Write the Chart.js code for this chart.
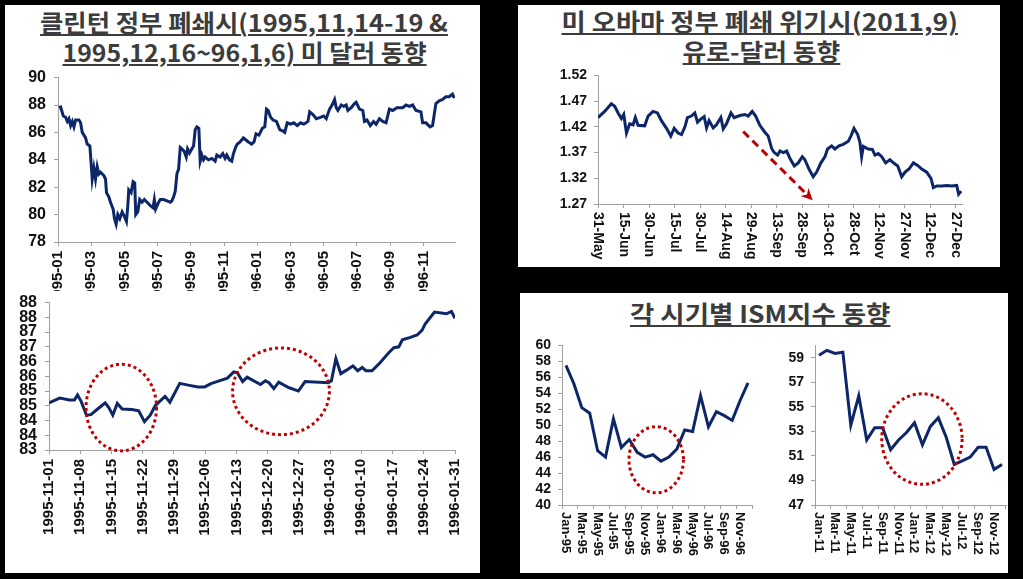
<!DOCTYPE html>
<html>
<head>
<meta charset="utf-8">
<script src="https://cdn.jsdelivr.net/npm/chart.js@4.4.0/dist/chart.umd.min.js"></script>
<style>
  html, body { margin: 0; padding: 0; background: #000; }
  #page { position: relative; width: 1023px; height: 579px; overflow: hidden; background: #000; }
  .panel { position: absolute; background: #fff; }
  .box { position: absolute; }
  .box canvas { display: block; }
  .ttl { position: absolute; width: 600px; text-align: center; white-space: nowrap;
         font: bold 24px 'Noto Sans CJK KR', sans-serif; color: #3c3c3c; line-height: 30px; }
  .ttl span { display: inline-block; text-decoration: underline; text-decoration-thickness: 2px;
              text-underline-offset: 2px; transform-origin: 50% 50%; }
</style>
</head>
<body>
<div id="page">
  <div class="panel" style="left:5px;top:5px;width:475px;height:568px"></div>
  <div class="panel" style="left:518px;top:5px;width:482px;height:262px"></div>
  <div class="panel" style="left:520px;top:293px;width:488px;height:280px"></div>

  <div class="ttl" style="left:-56px;top:7px"><span data-w="408">클린턴 정부 폐쇄시(1995,11,14-19 &amp;</span></div>
  <div class="ttl" style="left:-55px;top:37px"><span data-w="364">1995,12,16~96,1,6) 미 달러 동향</span></div>
  <div class="ttl" style="left:460px;top:6px"><span data-w="396">미 오바마 정부 폐쇄 위기시(2011,9)</span></div>
  <div class="ttl" style="left:461px;top:36px"><span data-w="158">유로-달러 동향</span></div>
  <div class="ttl" style="left:460px;top:298px"><span data-w="260">각 시기별 ISM지수 동향</span></div>

  <div class="box" style="left:10px;top:60px"><canvas id="c1" width="460" height="231"></canvas></div>
  <div class="box" style="left:8px;top:285px"><canvas id="c2" width="470" height="285"></canvas></div>
  <div class="box" style="left:525px;top:60px"><canvas id="c3" width="470" height="205"></canvas></div>
  <div class="box" style="left:525px;top:330px"><canvas id="c4" width="245" height="240"></canvas></div>
  <div class="box" style="left:775px;top:330px"><canvas id="c5" width="233" height="240"></canvas></div>
</div>

<script>
// 1995-96 dollar index (x = months since 1995-01)
const usdMonths = [0.06,0.16,0.32,0.46,0.56,0.66,0.76,0.86,0.96,1.06,1.26,1.36,1.46,1.66,1.76,1.92,2.0,2.06,2.16,2.26,
  2.36,2.46,2.56,2.76,2.86,2.92,3.06,3.16,3.32,3.4,3.5,3.6,3.72,3.86,4.0,4.12,4.2,4.26,4.4,4.52,
  4.62,4.68,4.8,4.92,5.06,5.2,5.36,5.56,5.72,5.8,5.88,6.06,6.16,6.36,6.56,6.76,6.86,6.96,7.06,7.16,
  7.26,7.36,7.46,7.6,7.72,7.8,7.92,8.06,8.16,8.26,8.36,8.48,8.56,8.66,8.76,8.86,9.06,9.26,9.46,9.56,
  9.76,9.92,10.06,10.16,10.32,10.46,10.56,10.72,10.8,10.96,11.16,11.26,11.46,11.66,11.8,
  11.92,12.1,12.3,12.45,12.55,12.65,12.8,12.95,13.15,13.35,13.55,13.65,13.8,14.0,14.2,14.4,14.6,14.8,
  15.05,15.15,15.35,15.55,15.8,16.0,16.15,16.35,16.5,16.65,16.75,16.85,17.05,17.2,17.35,17.45,17.65,
  17.85,17.95,18.15,18.35,18.45,18.6,18.8,19.0,19.15,19.35,19.55,19.75,19.95,20.15,20.4,20.75,20.95,
  21.15,21.35,21.55,21.85,21.95,22.15,22.4,22.55,22.75,22.95,23.15,23.35,23.55,23.75,23.86];
const usdIndex = [87.8,87.85,87.2,87.1,86.8,87.0,86.5,86.8,86.4,86.9,86.9,86.7,86.0,85.6,85.15,85.0,83.65,82.6,83.4,82.6,
  83.5,82.96,83.1,82.85,82.6,81.6,81.3,80.9,80.4,79.7,79.3,80.0,79.7,80.2,79.85,79.5,80.6,81.8,81.6,82.4,
  82.3,80.0,80.2,81.1,80.9,81.1,80.9,80.65,80.5,81.1,80.4,80.9,81.1,81.1,81.0,80.9,81.0,81.3,81.7,83.0,
  83.3,84.9,84.8,84.6,84.2,84.8,84.5,84.8,85.0,86.2,86.4,86.3,83.9,84.35,84.0,84.2,84.0,84.1,83.9,84.35,
  84.2,84.45,84.1,84.35,84.0,83.9,84.45,85.0,85.15,85.3,85.6,85.5,85.3,85.15,85.3,
  85.9,85.8,86.3,86.4,87.7,87.6,87.1,86.9,86.8,86.2,86.1,86.0,86.7,86.6,86.7,86.5,86.7,86.6,
  86.8,87.5,87.3,87.0,87.1,87.2,87.0,87.7,88.0,88.4,87.8,87.6,88.0,87.9,88.0,87.6,87.8,
  88.1,88.2,87.7,87.6,86.8,86.9,86.5,86.8,86.6,87.0,86.8,86.7,87.7,87.6,87.8,87.8,88.0,
  87.9,88.0,87.6,87.5,86.7,86.7,86.4,86.5,88.1,88.3,88.4,88.6,88.6,88.8,88.5];
const usdTickMonths = [0,2,4,6,8,10,12,14,16,18,20,22];
const usdTickLabels = ['1995-01','1995-03','1995-05','1995-07','1995-09','1995-11',
  '1996-01','1996-03','1996-05','1996-07','1996-09','1996-11'];
const usdYTicks = [78,80,82,84,86,88,90];

// Nov 1995 - Jan 1996 (x = days since 1995-11-01)
const shutdownDays = [0,2.4,4.6,5.7,6.4,7.2,8.4,9.4,10.9,12.6,13.4,14.3,15.3,16.4,18.6,20.1,21.4,22.7,23.8,26.0,
  27.1,29.3,31.2,33.4,34.9,36.3,37.8,40.0,41.4,42.2,43.4,44.4,47.4,48.5,49.3,50.4,51.5,53.7,55.9,57.4,
  62.6,63.3,64.3,65.4,66.6,68.1,69.2,70.2,71.0,72.4,74.0,76.2,77.3,78.4,79.2,81.0,82.5,83.6,84.3,86.4,
  89.1,90.2,91.0];
const shutdownIndex = [84.6,84.76,84.7,84.7,84.87,84.65,84.18,84.2,84.39,84.6,84.44,84.18,84.58,84.39,84.37,84.33,83.96,84.18,84.5,84.82,
  84.62,85.26,85.2,85.14,85.14,85.25,85.33,85.44,85.65,85.62,85.32,85.47,85.22,85.35,85.28,85.08,85.3,85.12,85.0,85.32,
  85.28,85.35,86.1,85.59,85.7,85.85,85.69,85.8,85.69,85.69,85.93,86.31,86.47,86.5,86.74,86.82,86.9,87.06,87.27,87.68,
  87.62,87.7,87.47];
const shutdownTickDays = [0,7,14,21,28,35,42,49,56,63,70,77,84,91];
const shutdownTickLabels = ['1995-11-01','1995-11-08','1995-11-15','1995-11-22','1995-11-29','1995-12-06','1995-12-13',
  '1995-12-20','1995-12-27','1996-01-03','1996-01-10','1996-01-17','1996-01-24','1996-01-31'];
const shutdownYTicks = [83,83.5,84,84.5,85,85.5,86,86.5,87,87.5,88];

// EUR/USD 2011 (x = days since 31 May)
const eurDays = [0,3.9,7.8,9.8,11.8,13.7,15.1,16.7,18.6,20.6,21.9,23.5,27.4,29.4,32.3,34.9,37.2,40.2,42.7,44.7,
  47.0,49.0,51.0,52.5,54.8,56.8,58.4,60.3,62.3,63.7,65.2,67.6,69.5,72.1,73.5,75.4,78.0,79.9,83.3,86.2,
  88.1,90.5,92.5,95.0,97.6,99.9,101.9,103.4,105.4,106.8,108.7,110.7,112.6,115.2,117.5,119.9,121.4,123.8,126.3,128.3,
  130.8,133.2,134.7,137.1,139.0,141.4,143.9,146.9,148.4,150.2,152.4,153.7,154.7,155.7,158.6,161.0,162.5,164.5,166.5,168.8,
  171.3,173.3,175.9,178.2,180.2,182.5,185.1,187.6,190.0,192.9,195.4,196.8,198.8,201.7,204.7,207.6,210.5,211.6,213.1];
const eurUsd = [1.438,1.450,1.465,1.460,1.447,1.436,1.444,1.408,1.426,1.424,1.438,1.423,1.422,1.441,1.450,1.447,1.432,1.417,1.402,1.417,
  1.408,1.405,1.420,1.438,1.441,1.447,1.429,1.435,1.440,1.418,1.432,1.418,1.424,1.438,1.416,1.426,1.447,1.438,1.442,1.444,
  1.441,1.450,1.441,1.423,1.411,1.402,1.378,1.370,1.365,1.373,1.370,1.373,1.359,1.344,1.350,1.362,1.356,1.338,1.323,1.332,
  1.350,1.362,1.377,1.383,1.377,1.383,1.386,1.392,1.402,1.417,1.405,1.390,1.362,1.382,1.377,1.376,1.365,1.368,1.362,1.350,
  1.356,1.350,1.344,1.323,1.332,1.338,1.350,1.345,1.338,1.332,1.320,1.302,1.305,1.305,1.306,1.305,1.306,1.289,1.295];
const eurTickDays = [0,15,30,45,60,75,90,105,120,135,150,165,180,195,210];
const eurTickLabels = ['31-May','15-Jun','30-Jun','15-Jul','30-Jul','14-Aug','29-Aug','13-Sep',
  '28-Sep','13-Oct','28-Oct','12-Nov','27-Nov','12-Dec','27-Dec'];
const eurYTicks = [1.27,1.32,1.37,1.42,1.47,1.52];

// ISM manufacturing index
const ism95Months = ['Jan-95','Feb-95','Mar-95','Apr-95','May-95','Jun-95','Jul-95','Aug-95','Sep-95','Oct-95','Nov-95','Dec-95',
  'Jan-96','Feb-96','Mar-96','Apr-96','May-96','Jun-96','Jul-96','Aug-96','Sep-96','Oct-96','Nov-96','Dec-96'];
const ism95 = [57.5,55.2,52.2,51.5,46.8,46.0,50.8,47.2,48.2,46.6,46.0,46.3,45.5,46.0,47.0,49.4,49.2,53.7,49.8,51.7,51.2,50.6,53.1,55.3];
const ism95YTicks = [40,42,44,46,48,50,52,54,56,58,60];
const ism11Months = ['Jan-11','Feb-11','Mar-11','Apr-11','May-11','Jun-11','Jul-11','Aug-11','Sep-11','Oct-11','Nov-11','Dec-11',
  'Jan-12','Feb-12','Mar-12','Apr-12','May-12','Jun-12','Jul-12','Aug-12','Sep-12','Oct-12','Nov-12','Dec-12'];
const ism11 = [59.2,59.6,59.35,59.45,53.5,55.9,52.3,53.3,53.3,51.5,52.3,52.9,53.7,51.9,53.4,54.1,52.5,50.3,50.6,50.9,51.7,51.7,49.9,50.3];
const ism11YTicks = [47,49,51,53,55,57,59];

const NAVY = '#0c2668';
const RED = '#c00000';
const AXIS = '#a0a0a0';
const FONT = "'Liberation Sans', Arial, sans-serif";

// stretch the titles to the width they have in the picture
document.querySelectorAll('.ttl span').forEach(s => {
  s.style.transform = 'scaleX(' + (+s.dataset.w / s.offsetWidth) + ')';
});

const pairs = (xs, ys) => xs.map((x, i) => ({ x: x, y: ys[i] }));

// red dotted circles, given in data units
function rings(list) {
  return {
    id: 'rings',
    afterDatasetsDraw(chart) {
      const { ctx, scales: { x, y } } = chart;
      ctx.save();
      ctx.strokeStyle = RED;
      ctx.lineWidth = 3;
      ctx.setLineDash([3, 3]);
      list.forEach(r => {
        const cx = x.getPixelForValue(r.x), cy = y.getPixelForValue(r.y);
        const rx = Math.abs(x.getPixelForValue(r.x + r.rx) - cx);
        const ry = Math.abs(y.getPixelForValue(r.y + r.ry) - cy);
        ctx.beginPath();
        ctx.ellipse(cx, cy, rx, ry, 0, 0, Math.PI * 2);
        ctx.stroke();
      });
      ctx.restore();
    }
  };
}

// red dashed arrow, given in data units
function arrow(a) {
  return {
    id: 'arrow',
    afterDatasetsDraw(chart) {
      const { ctx, scales: { x, y } } = chart;
      const x0 = x.getPixelForValue(a.x0), y0 = y.getPixelForValue(a.y0);
      const x1 = x.getPixelForValue(a.x1), y1 = y.getPixelForValue(a.y1);
      const ang = Math.atan2(y1 - y0, x1 - x0);
      const head = 10;
      ctx.save();
      ctx.strokeStyle = RED;
      ctx.fillStyle = RED;
      ctx.lineWidth = 3;
      ctx.setLineDash([8, 5]);
      ctx.beginPath();
      ctx.moveTo(x0, y0);
      ctx.lineTo(x1 - Math.cos(ang) * head, y1 - Math.sin(ang) * head);
      ctx.stroke();
      ctx.setLineDash([]);
      ctx.beginPath();
      ctx.moveTo(x1, y1);
      ctx.lineTo(x1 - Math.cos(ang - 0.45) * head * 1.3, y1 - Math.sin(ang - 0.45) * head * 1.3);
      ctx.lineTo(x1 - Math.cos(ang) * head * 0.8, y1 - Math.sin(ang) * head * 0.8);
      ctx.lineTo(x1 - Math.cos(ang + 0.45) * head * 1.3, y1 - Math.sin(ang + 0.45) * head * 1.3);
      ctx.closePath();
      ctx.fill();
      ctx.restore();
    }
  };
}

// x labels turned clockwise (read top to bottom)
function downLabels(labels, size, gap) {
  return {
    id: 'downLabels',
    afterDraw(chart) {
      const { ctx, scales: { x } } = chart;
      ctx.save();
      ctx.font = 'bold ' + size + 'px ' + FONT;
      ctx.fillStyle = '#111';
      ctx.textAlign = 'left';
      ctx.textBaseline = 'middle';
      x.ticks.forEach((t, i) => {
        if (!labels[i]) return;
        ctx.save();
        ctx.translate(Math.round(x.getPixelForTick(i)), x.top + gap);
        ctx.rotate(Math.PI / 2);
        ctx.fillText(labels[i], 0, 0);
        ctx.restore();
      });
      ctx.restore();
    }
  };
}

function yAxis(ticks, width, size, pad, fmt, max) {
  return {
    min: ticks[0],
    max: max,
    afterBuildTicks: s => { s.ticks = ticks.map(v => ({ value: v })); },
    afterFit: s => { s.width = width; },
    border: { color: AXIS, width: 1 },
    grid: { drawOnChartArea: false, tickLength: 4, color: AXIS },
    ticks: { autoSkip: false, font: { family: FONT, weight: 'bold', size: size }, color: '#111', padding: pad, callback: fmt }
  };
}

function lineSet(data) {
  return { data: data, borderColor: NAVY, borderWidth: 3, pointRadius: 0, tension: 0, fill: false };
}

const common = {
  responsive: false,
  animation: false,
  plugins: { legend: { display: false }, tooltip: { enabled: false } }
};

// top left: 1995-96
new Chart(document.getElementById('c1'), {
  type: 'line',
  data: { datasets: [lineSet(pairs(usdMonths, usdIndex))] },
  options: {
    ...common,
    layout: { padding: { top: 8, right: 15, left: 0, bottom: 0 } },
    scales: {
      x: {
        type: 'linear', min: 0, max: 23.9,
        afterBuildTicks: s => { s.ticks = usdTickMonths.map(v => ({ value: v })); },
        afterFit: s => { s.height = 49; },
        border: { color: AXIS, width: 1 },
        grid: { drawOnChartArea: false, tickLength: 4, color: AXIS },
        ticks: { autoSkip: false, minRotation: 90, maxRotation: 90, padding: 5, color: '#111',
                 font: { family: FONT, weight: 'bold', size: 15 },
                 callback: (v, i) => usdTickLabels[i] }
      },
      y: yAxis(usdYTicks, 48, 16, 8, v => v, 90)
    }
  }
});

// bottom left: Nov 1995 - Jan 1996
new Chart(document.getElementById('c2'), {
  type: 'line',
  data: { datasets: [lineSet(pairs(shutdownDays, shutdownIndex))] },
  options: {
    ...common,
    layout: { padding: { top: 9, right: 18, left: 0, bottom: 0 } },
    scales: {
      x: {
        type: 'linear', min: 0, max: 91,
        afterBuildTicks: s => { s.ticks = shutdownTickDays.map(v => ({ value: v })); },
        afterFit: s => { s.height = 120; },
        border: { color: AXIS, width: 1 },
        grid: { drawOnChartArea: false, tickLength: 4, color: AXIS },
        ticks: { autoSkip: false, minRotation: 90, maxRotation: 90, padding: 5, color: '#111',
                 font: { family: FONT, weight: 'bold', size: 15 },
                 callback: (v, i) => shutdownTickLabels[i] }
      },
      y: yAxis(shutdownYTicks, 41, 16, 8, v => Math.round(v), 88)
    }
  },
  plugins: [rings([{ x: 16.2, y: 84.44, rx: 7.9, ry: 1.47 }, { x: 52, y: 84.99, rx: 10.85, ry: 1.47 }])]
});

// top right: EUR/USD 2011
new Chart(document.getElementById('c3'), {
  type: 'line',
  data: { datasets: [lineSet(pairs(eurDays, eurUsd))] },
  options: {
    ...common,
    layout: { padding: { top: 7, right: 33, left: 0, bottom: 0 } },
    scales: {
      x: {
        type: 'linear', min: 0, max: 213.6,
        afterBuildTicks: s => { s.ticks = eurTickDays.map(v => ({ value: v })); },
        afterFit: s => { s.height = 61; },
        border: { color: AXIS, width: 1 },
        grid: { drawOnChartArea: false, tickLength: 4, color: AXIS },
        ticks: { display: false }
      },
      y: yAxis(eurYTicks, 73, 14, 7, v => v.toFixed(2), 1.52)
    }
  },
  plugins: [downLabels(eurTickLabels, 14, 8), arrow({ x0: 85.2, y0: 1.411, x1: 126, y1: 1.2773 })]
});

function ismChart(id, months, values, yTicks, yWidth, ring) {
  return new Chart(document.getElementById(id), {
    type: 'line',
    data: { labels: months, datasets: [lineSet(values)] },
    options: {
      ...common,
      layout: { padding: { top: 13, right: id === 'c4' ? 18 : 2, left: 0, bottom: 0 } },
      scales: {
        x: {
          type: 'category', offset: true,
          afterFit: s => { s.height = 65; },
          border: { color: AXIS, width: 1 },
          grid: { drawOnChartArea: false, offset: true, tickLength: 4,
                  tickColor: c => (c.index % 2 ? 'rgba(0,0,0,0)' : AXIS) },
          ticks: { display: false, autoSkip: false }
        },
        y: yAxis(yTicks, yWidth, 14, 7, v => v, 60)
      }
    },
    plugins: [downLabels(months.map((m, i) => (i % 2 ? '' : m)), 13, 7), rings([ring])]
  });
}

ismChart('c4', ism95Months, ism95, ism95YTicks, 37, { x: 11.4, y: 45.67, rx: 3.44, ry: 4.15 });
ismChart('c5', ism11Months, ism11, ism11YTicks, 40, { x: 12.94, y: 52.37, rx: 5.05, ry: 3.69 });
</script>
</body>
</html>
